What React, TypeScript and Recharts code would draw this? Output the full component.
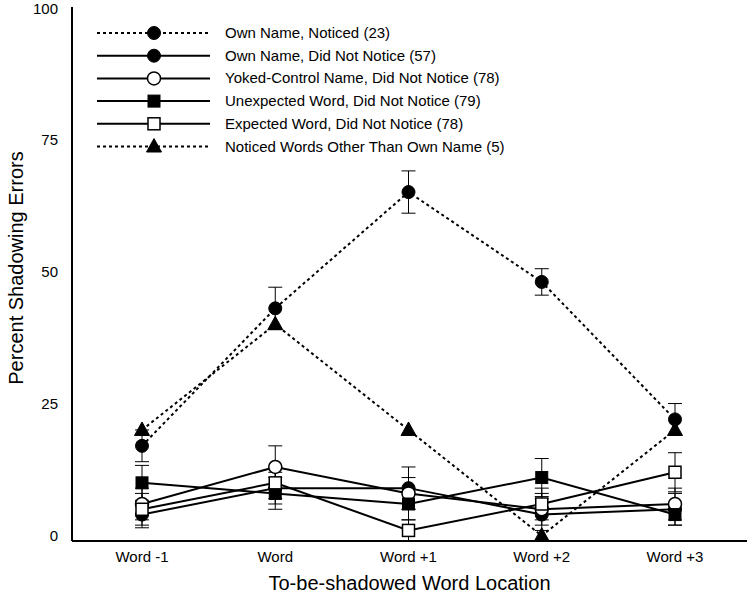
import React from 'react';
import { LineChart, Line, XAxis, YAxis, ErrorBar, Legend } from 'recharts';

const locations = ['Word -1', 'Word', 'Word +1', 'Word +2', 'Word +3'];

const ownNoticed = [17, 43, 65, 48, 22];
const ownNoticedErr = [3, 4, 4, 2.5, 3];
const ownNotNotice = [4, 9, 9, 4, 5];
const ownNotNoticeErr = [2.5, 3, 4, 3, 3];
const yoked = [6, 13, 8, 5, 6];
const yokedErr = [3, 4, 3, 3, 3];
const unexpected = [10, 8, 6, 11, 4];
const unexpectedErr = [3.3, 3, 3, 3.6, 2];
const expected = [5, 10, 1, 6, 12];
const expectedErr = [3, 3, 2, 3, 3.7];
const noticedOther = [20, 40, 20, 0, 20];

const yTicks = [0, 25, 50, 75, 100];

type Shape = 'circle' | 'openCircle' | 'square' | 'openSquare' | 'triangle';

const series = [
  { key: 'ownNoticed', name: 'Own Name, Noticed (23)', shape: 'circle' as Shape, dashed: true, err: 'ownNoticedErr' },
  { key: 'ownNotNotice', name: 'Own Name, Did Not Notice (57)', shape: 'circle' as Shape, dashed: false, err: 'ownNotNoticeErr' },
  { key: 'yoked', name: 'Yoked-Control Name, Did Not Notice (78)', shape: 'openCircle' as Shape, dashed: false, err: 'yokedErr' },
  { key: 'unexpected', name: 'Unexpected Word, Did Not Notice (79)', shape: 'square' as Shape, dashed: false, err: 'unexpectedErr' },
  { key: 'expected', name: 'Expected Word, Did Not Notice (78)', shape: 'openSquare' as Shape, dashed: false, err: 'expectedErr' },
  { key: 'noticedOther', name: 'Noticed Words Other Than Own Name (5)', shape: 'triangle' as Shape, dashed: true, err: null },
];

const data = locations.map((loc, i) => ({
  loc,
  ownNoticed: ownNoticed[i],
  ownNoticedErr: ownNoticedErr[i],
  ownNotNotice: ownNotNotice[i],
  ownNotNoticeErr: ownNotNoticeErr[i],
  yoked: yoked[i],
  yokedErr: yokedErr[i],
  unexpected: unexpected[i],
  unexpectedErr: unexpectedErr[i],
  expected: expected[i],
  expectedErr: expectedErr[i],
  noticedOther: noticedOther[i],
}));

const FONT = '"Liberation Sans", Arial, Helvetica, sans-serif';

function Marker({ shape, cx, cy }: { shape: Shape; cx: number; cy: number }) {
  switch (shape) {
    case 'circle':
      return <circle cx={cx} cy={cy} r={6.5} fill="#000" stroke="#000" strokeWidth={1} />;
    case 'openCircle':
      return <circle cx={cx} cy={cy} r={6.5} fill="#fff" stroke="#000" strokeWidth={1.5} />;
    case 'square':
      return <rect x={cx - 6} y={cy - 6} width={12} height={12} fill="#000" stroke="#000" strokeWidth={1} />;
    case 'openSquare':
      return <rect x={cx - 6} y={cy - 6} width={12} height={12} fill="#fff" stroke="#000" strokeWidth={1.5} />;
    default:
      return (
        <polygon
          points={`${cx},${cy - 8} ${cx - 7.5},${cy + 5.5} ${cx + 7.5},${cy + 5.5}`}
          fill="#000"
          stroke="#000"
          strokeWidth={1}
        />
      );
  }
}

const makeDot = (shape: Shape, key: string) => (props: any) => {
  const { cx, cy, index } = props;
  if (cx == null || cy == null) return <g key={`${key}-${index}`} />;
  return (
    <g key={`${key}-${index}`}>
      <Marker shape={shape} cx={cx} cy={cy} />
    </g>
  );
};

const LegendBox = () => (
  <svg width={470} height={140} style={{ display: 'block', fontFamily: FONT }}>
    {series.map((s, i) => {
      const y = 11 + i * 22.7;
      return (
        <g key={s.key}>
          <line
            x1={0}
            x2={113}
            y1={y}
            y2={y}
            stroke="#000"
            strokeWidth={2}
            strokeDasharray={s.dashed ? '3 3' : undefined}
          />
          <Marker shape={s.shape} cx={57} cy={y} />
          <text x={128} y={y + 5} fontSize={15} fill="#000">
            {s.name}
          </text>
        </g>
      );
    })}
  </svg>
);

// rotated y label
const YLabel = () => {
  const cx = 16;
  const cy = 268;
  return (
    <text
      x={cx}
      y={cy}
      transform={`rotate(-90, ${cx}, ${cy})`}
      textAnchor="middle"
      dominantBaseline="central"
      fontSize={20}
      fontFamily={FONT}
      fill="#000"
    >
      Percent Shadowing Errors
    </text>
  );
};

export default function App() {
  return (
    <div style={{ position: 'absolute', left: 0, top: 0, background: '#fff', fontFamily: FONT }}>
      <LineChart width={750} height={600} data={data} margin={{ top: 7, right: 3, bottom: 0, left: 0 }}>
        <XAxis
          dataKey="loc"
          height={59}
          padding={{ left: 70, right: 72 }}
          tickLine={false}
          axisLine={{ stroke: '#000', strokeWidth: 2 }}
          tick={{ fill: '#000', fontSize: 15, fontFamily: FONT }}
          tickMargin={4}
          label={{
            value: 'To-be-shadowed Word Location',
            position: 'insideBottom',
            offset: 10,
            fill: '#000',
            fontSize: 20,
            fontFamily: FONT,
          }}
        />
        <XAxis xAxisId="top" dataKey="loc" orientation="top" height={0} tick={false} tickLine={false} axisLine={{ stroke: '#000', strokeWidth: 2 }} />
        <YAxis
          domain={[0, 100]}
          ticks={yTicks}
          width={72}
          tickLine={false}
          axisLine={{ stroke: '#000', strokeWidth: 2 }}
          tick={{ fill: '#000', fontSize: 15, fontFamily: FONT }}
          tickMargin={8}
          label={<YLabel />}
        />
        <YAxis yAxisId="right" orientation="right" width={0} domain={[0, 100]} tick={false} tickLine={false} axisLine={{ stroke: '#000', strokeWidth: 2 }} />
        <Legend
          layout="vertical"
          align="center"
          verticalAlign="middle"
          content={() => <LegendBox />}
          wrapperStyle={{ position: 'absolute', left: 97, top: 22, width: 470 }}
        />
        {series.map((s) => (
          <Line
            key={s.key}
            dataKey={s.key}
            name={s.name}
            stroke="#000"
            strokeWidth={2}
            strokeDasharray={s.dashed ? '3 3' : undefined}
            dot={makeDot(s.shape, s.key)}
            activeDot={false}
            isAnimationActive={false}
            legendType="none"
          >
            {s.err ? <ErrorBar dataKey={s.err} width={7} stroke="#000" strokeWidth={1} direction="y" /> : null}
          </Line>
        ))}
      </LineChart>
    </div>
  );
}
